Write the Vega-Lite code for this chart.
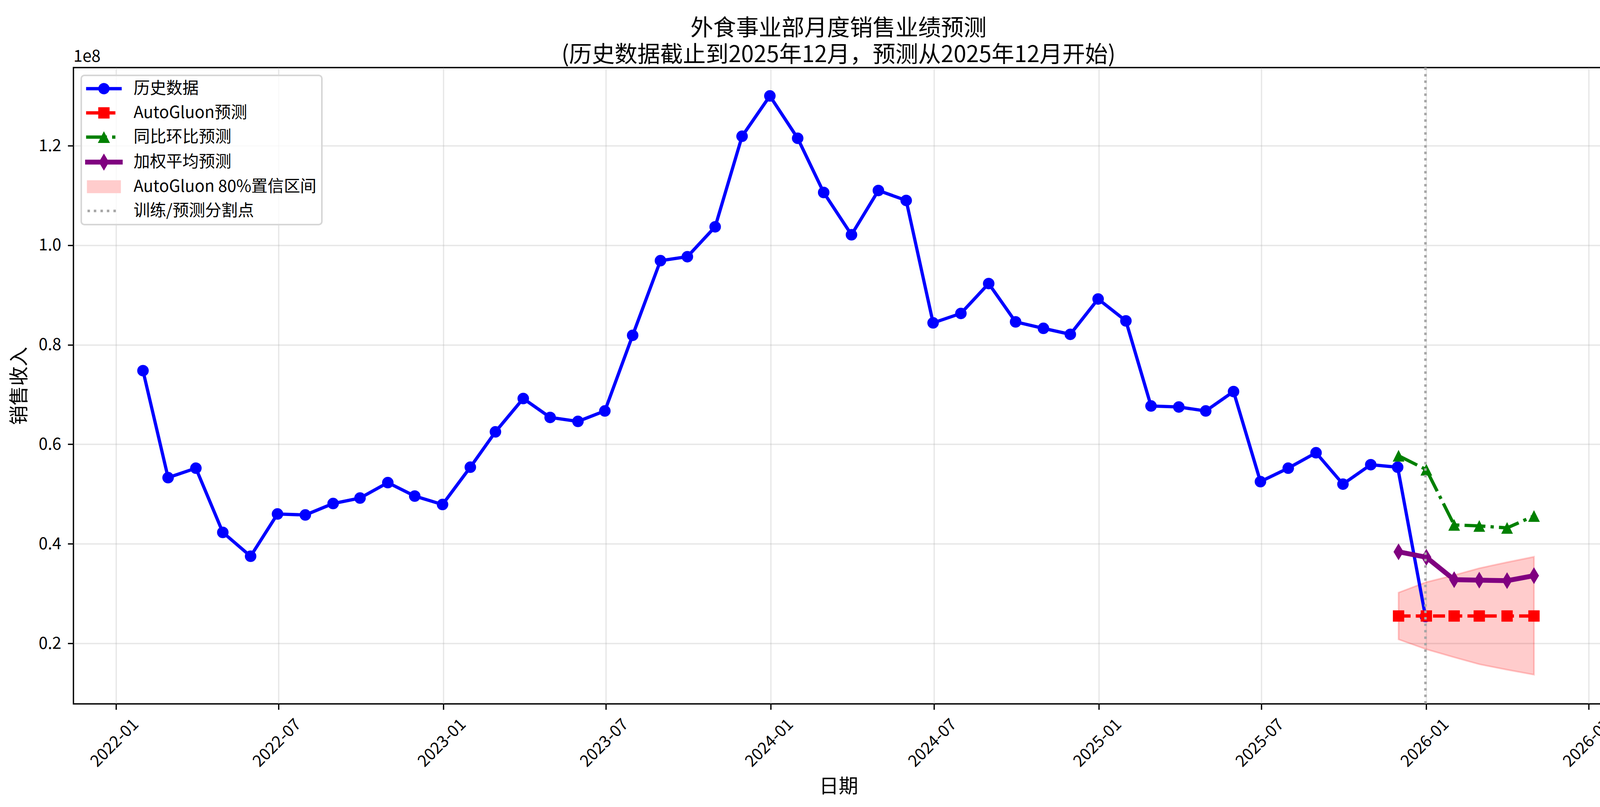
{
  "$schema": "https://vega.github.io/schema/vega-lite/v6.json",
  "autosize": {"type": "fit", "contains": "padding"},
  "width": 4163,
  "height": 2066,
  "padding": {"left": 25, "top": 43, "right": 32, "bottom": 26},
  "background": "white",
  "title": {
    "text": ["外食事业部月度销售业绩预测", "(历史数据截止到2025年12月，预测从2025年12月开始)"],
    "font": "Noto Sans CJK SC",
    "fontSize": 58.3,
    "fontWeight": "normal",
    "color": "black",
    "lineHeight": 68,
    "anchor": "middle",
    "frame": "group",
    "offset": -46
  },
  "config": {
    "font": "Noto Sans CJK SC",
    "view": {"stroke": "black", "strokeWidth": 3.33},
    "axis": {
      "labelFont": "Noto Sans CJK SC",
      "labelFontSize": 41.7,
      "labelColor": "black",
      "titleFont": "Noto Sans CJK SC",
      "titleFontSize": 50,
      "titleFontWeight": "normal",
      "titleColor": "black",
      "tickColor": "black",
      "tickWidth": 3.33,
      "tickSize": 14.6,
      "domain": false,
      "grid": true,
      "gridColor": "#b0b0b0",
      "gridOpacity": 0.3,
      "gridWidth": 3.33,
      "labelOverlap": false,
      "labelFlush": false
    },
    "legend": {
      "orient": "top-left",
      "offset": 20,
      "padding": 13,
      "rowPadding": 19,
      "cornerRadius": 8,
      "strokeColor": "#d6d6d6",
      "strokeWidth": 4,
      "fillColor": "rgba(255,255,255,0.8)",
      "symbolSize": 1764,
      "symbolStrokeWidth": 0,
      "symbolOpacity": 1,
      "symbolOffset": 24,
      "labelOffset": 55,
      "labelFont": "Noto Sans CJK SC",
      "labelFontSize": 41.7,
      "labelColor": "black",
      "labelLimit": 2000
    }
  },
  "datasets": {
    "hist": [
      {"date": "2022-01-31", "value": 74800000},
      {"date": "2022-02-28", "value": 53300000},
      {"date": "2022-03-31", "value": 55200000},
      {"date": "2022-04-30", "value": 42300000},
      {"date": "2022-05-31", "value": 37500000},
      {"date": "2022-06-30", "value": 46000000},
      {"date": "2022-07-31", "value": 45800000},
      {"date": "2022-08-31", "value": 48100000},
      {"date": "2022-09-30", "value": 49200000},
      {"date": "2022-10-31", "value": 52300000},
      {"date": "2022-11-30", "value": 49600000},
      {"date": "2022-12-31", "value": 47900000},
      {"date": "2023-01-31", "value": 55400000},
      {"date": "2023-02-28", "value": 62500000},
      {"date": "2023-03-31", "value": 69200000},
      {"date": "2023-04-30", "value": 65400000},
      {"date": "2023-05-31", "value": 64600000},
      {"date": "2023-06-30", "value": 66700000},
      {"date": "2023-07-31", "value": 81900000},
      {"date": "2023-08-31", "value": 96900000},
      {"date": "2023-09-30", "value": 97700000},
      {"date": "2023-10-31", "value": 103700000},
      {"date": "2023-11-30", "value": 121900000},
      {"date": "2023-12-31", "value": 130000000},
      {"date": "2024-01-31", "value": 121500000},
      {"date": "2024-02-29", "value": 110600000},
      {"date": "2024-03-31", "value": 102100000},
      {"date": "2024-04-30", "value": 111000000},
      {"date": "2024-05-31", "value": 109000000},
      {"date": "2024-06-30", "value": 84400000},
      {"date": "2024-07-31", "value": 86300000},
      {"date": "2024-08-31", "value": 92300000},
      {"date": "2024-09-30", "value": 84600000},
      {"date": "2024-10-31", "value": 83300000},
      {"date": "2024-11-30", "value": 82100000},
      {"date": "2024-12-31", "value": 89200000},
      {"date": "2025-01-31", "value": 84800000},
      {"date": "2025-02-28", "value": 67700000},
      {"date": "2025-03-31", "value": 67500000},
      {"date": "2025-04-30", "value": 66700000},
      {"date": "2025-05-31", "value": 70600000},
      {"date": "2025-06-30", "value": 52500000},
      {"date": "2025-07-31", "value": 55200000},
      {"date": "2025-08-31", "value": 58300000},
      {"date": "2025-09-30", "value": 52000000},
      {"date": "2025-10-31", "value": 55900000},
      {"date": "2025-11-30", "value": 55400000},
      {"date": "2025-12-31", "value": 25400000}
    ],
    "autogluon": [
      {"date": "2025-12-01", "value": 25500000},
      {"date": "2026-01-01", "value": 25500000},
      {"date": "2026-02-01", "value": 25500000},
      {"date": "2026-03-01", "value": 25500000},
      {"date": "2026-04-01", "value": 25500000},
      {"date": "2026-05-01", "value": 25500000}
    ],
    "yoy": [
      {"date": "2025-12-01", "value": 57700000},
      {"date": "2026-01-01", "value": 54900000},
      {"date": "2026-02-01", "value": 43800000},
      {"date": "2026-03-01", "value": 43600000},
      {"date": "2026-04-01", "value": 43200000},
      {"date": "2026-05-01", "value": 45600000}
    ],
    "weighted": [
      {"date": "2025-12-01", "value": 38400000},
      {"date": "2026-01-01", "value": 37300000},
      {"date": "2026-02-01", "value": 32800000},
      {"date": "2026-03-01", "value": 32700000},
      {"date": "2026-04-01", "value": 32600000},
      {"date": "2026-05-01", "value": 33600000}
    ],
    "band": [
      {"date": "2025-12-01", "lo": 20800000, "hi": 30200000},
      {"date": "2026-01-01", "lo": 18800000, "hi": 32300000},
      {"date": "2026-02-01", "lo": 17200000, "hi": 33700000},
      {"date": "2026-03-01", "lo": 15800000, "hi": 35100000},
      {"date": "2026-04-01", "lo": 14700000, "hi": 36300000},
      {"date": "2026-05-01", "lo": 13700000, "hi": 37400000}
    ],
    "split": [
      {"date": "2025-12-31"}
    ]
  },
  "layer": [
    {
      "data": {"name": "split"},
      "mark": {"type": "point", "filled": true, "size": 0, "strokeWidth": 0},
      "encoding": {
        "x": {
          "field": "date",
          "type": "temporal",
          "title": "日期",
          "scale": {
            "type": "utc",
            "domain": [
              {"year": 2021, "month": 11, "date": 14, "hours": 11, "utc": true},
              {"year": 2026, "month": 7, "date": 17, "hours": 13, "utc": true}
            ]
          },
          "axis": {
            "title": "日期",
            "values": [
              {"year": 2022, "month": 1, "date": 1, "utc": true},
              {"year": 2022, "month": 7, "date": 1, "utc": true},
              {"year": 2023, "month": 1, "date": 1, "utc": true},
              {"year": 2023, "month": 7, "date": 1, "utc": true},
              {"year": 2024, "month": 1, "date": 1, "utc": true},
              {"year": 2024, "month": 7, "date": 1, "utc": true},
              {"year": 2025, "month": 1, "date": 1, "utc": true},
              {"year": 2025, "month": 7, "date": 1, "utc": true},
              {"year": 2026, "month": 1, "date": 1, "utc": true},
              {"year": 2026, "month": 7, "date": 1, "utc": true}
            ],
            "format": "%Y-%m",
            "labelAngle": -45,
            "labelAlign": "center",
            "labelBaseline": "middle",
            "labelOffset": -4,
            "labelPadding": 85,
            "titlePadding": 18
          }
        },
        "y": {
          "datum": 50000000,
          "type": "quantitative",
          "title": "销售收入",
          "scale": {"domain": [7840000, 135700000], "nice": false, "zero": false},
          "axis": {
            "title": "销售收入",
            "values": [20000000, 40000000, 60000000, 80000000, 100000000, 120000000],
            "labelExpr": "format(datum.value / 1e8, '.1f')",
            "labelPadding": 17,
            "titlePadding": 23
          }
        },
        "color": {
          "datum": "训练/预测分割点",
          "scale": {
            "domain": ["历史数据", "AutoGluon预测", "同比环比预测", "加权平均预测", "AutoGluon 80%置信区间", "训练/预测分割点"],
            "range": ["blue", "red", "green", "purple", "#ffcccc", "#a6a6a6"]
          },
          "legend": {"title": null}
        },
        "shape": {
          "datum": "训练/预测分割点",
          "scale": {
            "domain": ["历史数据", "AutoGluon预测", "同比环比预测", "加权平均预测", "AutoGluon 80%置信区间", "训练/预测分割点"],
            "range": [
              "M-2.17,-0.2L2.17,-0.2L2.17,0.2L-2.17,0.2Z M-0.69,0A0.69,0.69 0 1,1 0.69,0A0.69,0.69 0 1,1 -0.69,0Z",
              "M-2.17,-0.2L-0.69,-0.2L-0.69,0.2L-2.17,0.2Z M0.69,-0.2L1.4,-0.2L1.4,0.2L0.69,0.2Z M-0.69,-0.69L0.69,-0.69L0.69,0.69L-0.69,0.69Z",
              "M-2.17,-0.2L0.37,-0.2L0.37,0.2L-2.17,0.2Z M1,-0.2L1.4,-0.2L1.4,0.2L1,0.2Z M0,-0.71L0.74,0.71L-0.74,0.71Z",
              "M-2.29,-0.3L2.29,-0.3L2.29,0.3L-2.29,0.3Z M0,-1.05L0.62,0L0,1.05L-0.62,0Z",
              "M-2.07,-0.79L2.07,-0.79L2.07,0.79L-2.07,0.79Z",
              "M-2,-0.15L-1.7,-0.15L-1.7,0.15L-2,0.15Z M-1.23,-0.15L-0.93,-0.15L-0.93,0.15L-1.23,0.15Z M-0.42,-0.15L-0.12,-0.15L-0.12,0.15L-0.42,0.15Z M0.36,-0.15L0.66,-0.15L0.66,0.15L0.36,0.15Z M1.16,-0.15L1.46,-0.15L1.46,0.15L1.16,0.15Z"
            ]
          },
          "legend": {"title": null}
        }
      }
    },
    {
      "data": {"name": "band"},
      "mark": {"type": "area", "fill": "red", "fillOpacity": 0.2, "stroke": "red", "strokeOpacity": 0.2, "strokeWidth": 4.17},
      "encoding": {
        "x": {"field": "date", "type": "temporal", "title": "日期"},
        "y": {"field": "lo", "type": "quantitative", "title": "销售收入"},
        "y2": {"field": "hi"}
      }
    },
    {
      "data": {"name": "hist"},
      "mark": {
        "type": "line",
        "strokeWidth": 8.33,
        "strokeJoin": "round",
        "strokeCap": "square",
        "point": {"filled": true, "shape": "circle", "size": 870}
      },
      "encoding": {
        "x": {"field": "date", "type": "temporal", "title": "日期"},
        "y": {"field": "value", "type": "quantitative", "title": "销售收入"},
        "color": {"datum": "历史数据", "legend": {"title": null}}
      }
    },
    {
      "data": {"name": "autogluon"},
      "mark": {
        "type": "line",
        "strokeWidth": 8.33,
        "strokeDash": [30.8, 13.3],
        "point": {"filled": true, "shape": "square", "size": 841}
      },
      "encoding": {
        "x": {"field": "date", "type": "temporal", "title": "日期"},
        "y": {"field": "value", "type": "quantitative", "title": "销售收入"},
        "color": {"datum": "AutoGluon预测", "legend": {"title": null}}
      }
    },
    {
      "data": {"name": "yoy"},
      "mark": {
        "type": "line",
        "strokeWidth": 8.33,
        "strokeDash": [53.3, 13.3, 8.3, 13.3],
        "point": {"filled": true, "shape": "M0,-1L1,1L-1,1Z", "size": 900}
      },
      "encoding": {
        "x": {"field": "date", "type": "temporal", "title": "日期"},
        "y": {"field": "value", "type": "quantitative", "title": "销售收入"},
        "color": {"datum": "同比环比预测", "legend": {"title": null}}
      }
    },
    {
      "data": {"name": "weighted"},
      "mark": {
        "type": "line",
        "strokeWidth": 12.5,
        "strokeJoin": "round",
        "strokeCap": "square",
        "point": {"filled": true, "shape": "M0,-1L0.6,0L0,1L-0.6,0Z", "size": 1849}
      },
      "encoding": {
        "x": {"field": "date", "type": "temporal", "title": "日期"},
        "y": {"field": "value", "type": "quantitative", "title": "销售收入"},
        "color": {"datum": "加权平均预测", "legend": {"title": null}}
      }
    },
    {
      "data": {"name": "split"},
      "mark": {"type": "rule", "strokeWidth": 6.25, "strokeDash": [6.25, 10.3]},
      "encoding": {
        "x": {"field": "date", "type": "temporal", "title": "日期"},
        "color": {"datum": "训练/预测分割点", "legend": {"title": null}}
      }
    },
    {
      "data": {"values": [{"label": "1e8"}]},
      "mark": {"type": "text", "align": "left", "baseline": "alphabetic", "dy": -15, "fontSize": 41.7, "font": "Noto Sans CJK SC", "color": "black"},
      "encoding": {
        "x": {"datum": {"year": 2021, "month": 11, "date": 14, "hours": 11, "utc": true}, "type": "temporal", "title": "日期"},
        "y": {"datum": 135700000, "type": "quantitative", "title": "销售收入"},
        "text": {"field": "label"}
      }
    }
  ]
}
